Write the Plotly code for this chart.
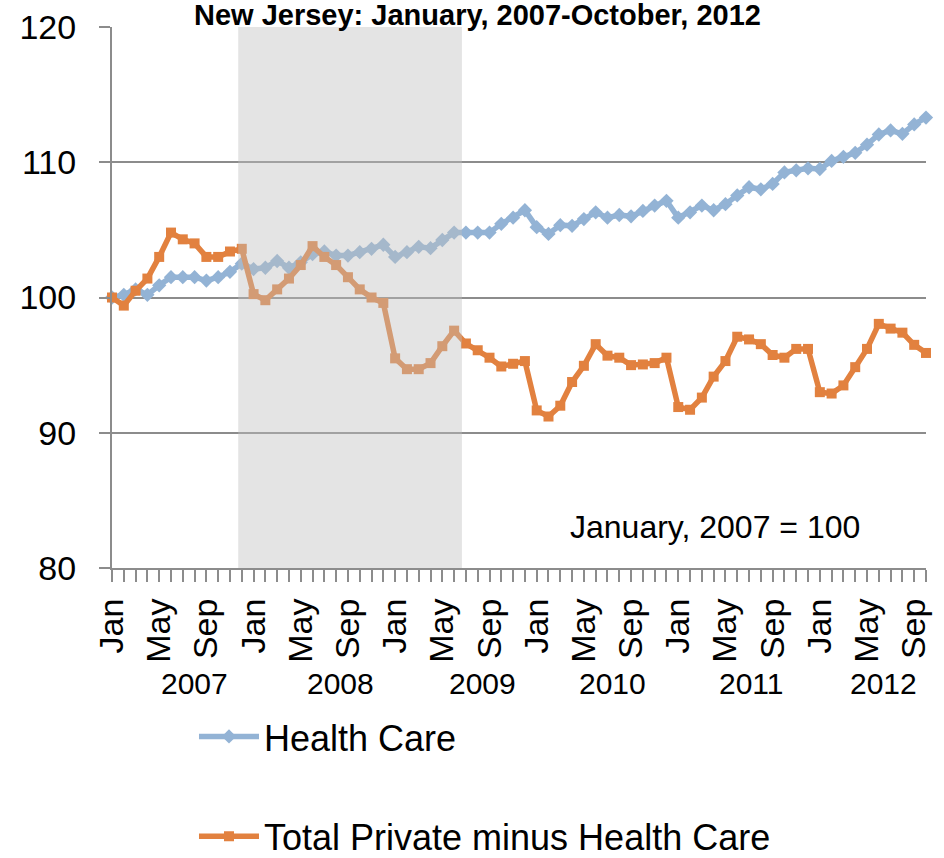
import plotly.graph_objects as go

months = ["Jan","Feb","Mar","Apr","May","Jun","Jul","Aug","Sep","Oct","Nov","Dec"]
years = ["2007","2008","2009","2010","2011","2012"]
labelled_months = ["Jan","May","Sep"]

health_care = [100.0, 100.2, 100.6, 100.2, 100.9, 101.5, 101.5, 101.5, 101.25, 101.5, 101.9, 102.5,
               102.1, 102.2, 102.7, 102.2, 102.6, 103.2, 103.4, 103.1, 103.1, 103.35, 103.6, 103.9,
               103.0, 103.35, 103.75, 103.65, 104.25, 104.8, 104.8, 104.8, 104.8, 105.45, 105.9, 106.45,
               105.2, 104.7, 105.35, 105.3, 105.8, 106.3, 105.9, 106.1, 106.0, 106.4, 106.8, 107.15,
               105.9, 106.3, 106.8, 106.45, 106.9, 107.55, 108.15, 108.0, 108.4, 109.25, 109.4, 109.55,
               109.5, 110.1, 110.4, 110.7, 111.3, 112.05, 112.35, 112.1, 112.8, 113.3]

private_minus_hc = [100.0, 99.4, 100.5, 101.4, 103.0, 104.8, 104.3, 104.0, 103.0, 103.0, 103.4, 103.6,
                    100.25, 99.8, 100.6, 101.4, 102.4, 103.8, 103.0, 102.4, 101.5, 100.6, 100.0, 99.6,
                    95.5, 94.7, 94.7, 95.15, 96.4, 97.55, 96.6, 96.1, 95.55, 94.9, 95.1, 95.3,
                    91.65, 91.2, 92.0, 93.75, 94.95, 96.55, 95.7, 95.55, 95.0, 95.05, 95.15, 95.55,
                    91.9, 91.7, 92.6, 94.15, 95.3, 97.1, 96.9, 96.55, 95.75, 95.55, 96.2, 96.2,
                    93.0, 92.9, 93.5, 94.85, 96.2, 98.05, 97.7, 97.4, 96.5, 95.9]

n = len(health_care)
x = list(range(n))
month_of = [months[i % 12] for i in x]
ticktext = [m if m in labelled_months else "" for m in month_of]

# recession shading (Dec 2007 - Jun 2009), in category index units
rec_x0, rec_x1 = 10.7, 29.66
# year label centres (category index units)
year_pos = [7.0, 19.35, 31.4, 42.4, 54.2, 65.4]

FONT = "Liberation Sans, Arial, sans-serif"
GRID = "#8c8c8c"
BLUE = "#93b3d5"
ORANGE = "#e2813f"

fig = go.Figure()
fig.add_trace(go.Scatter(
    x=x, y=health_care, mode="lines+markers", name="Health Care",
    line=dict(color=BLUE, width=5.5), marker=dict(symbol="diamond", size=11, color=BLUE),
    cliponaxis=False, legendgroup="a"))
fig.add_trace(go.Scatter(
    x=x, y=private_minus_hc, mode="lines+markers", name="Total Private minus Health Care",
    line=dict(color=ORANGE, width=5.5), marker=dict(symbol="square", size=10, color=ORANGE),
    cliponaxis=False, legendgroup="b"))

fig.add_shape(type="rect", xref="x", yref="y", x0=rec_x0, x1=rec_x1, y0=80, y1=120,
              fillcolor="rgba(190,190,190,0.42)", line=dict(width=0), layer="above")

for yr, pos in zip(years, year_pos):
    fig.add_annotation(x=pos, y=0, xref="x", yref="paper", text=yr, showarrow=False,
                       yanchor="middle", yshift=-115, font=dict(family=FONT, size=30, color="black"))

fig.add_annotation(x=51.1, y=83.0, xref="x", yref="y", text="January, 2007 = 100", showarrow=False,
                   font=dict(family=FONT, size=32, color="black"))

fig.add_annotation(x=0.4486, y=1, xref="paper", yref="paper", yanchor="bottom", yshift=-6,
                   text="<b>New Jersey: January, 2007-October, 2012</b>", showarrow=False,
                   font=dict(family=FONT, size=29, color="black"))

fig.update_layout(
    width=944, height=858,
    margin=dict(l=112, r=18, t=27, b=290, autoexpand=False),
    paper_bgcolor="white", plot_bgcolor="white",
    font=dict(family=FONT, color="black"),
    showlegend=True,
    legend=dict(x=0.2055, y=0.1765, xref="container", yref="container",
                xanchor="left", yanchor="top", orientation="v",
                font=dict(family=FONT, size=36, color="black"), tracegroupgap=50,
                itemwidth=60, bgcolor="rgba(0,0,0,0)"),
    xaxis=dict(range=[0, n - 1], tickmode="array", tickvals=x, ticktext=ticktext,
               tickangle=-90, ticks="outside", ticklen=12, tickwidth=2, tickcolor=GRID,
               showline=True, linecolor=GRID, linewidth=2, showgrid=False, zeroline=False,
               automargin=False, ticklabelstandoff=3,
               tickfont=dict(family=FONT, size=34, color="black")),
    yaxis=dict(range=[80, 120], tickvals=[80, 90, 100, 110, 120], ticks="outside", ticklen=11,
               tickwidth=2, tickcolor=GRID, showline=True, linecolor=GRID, linewidth=2,
               showgrid=True, gridcolor=GRID, gridwidth=2, zeroline=False,
               automargin=False, ticklabelstandoff=16,
               tickfont=dict(family=FONT, size=34, color="black")),
)

fig.write_html("out.html", config={"displayModeBar": False},
               post_script="document.body.style.margin='0px';")
